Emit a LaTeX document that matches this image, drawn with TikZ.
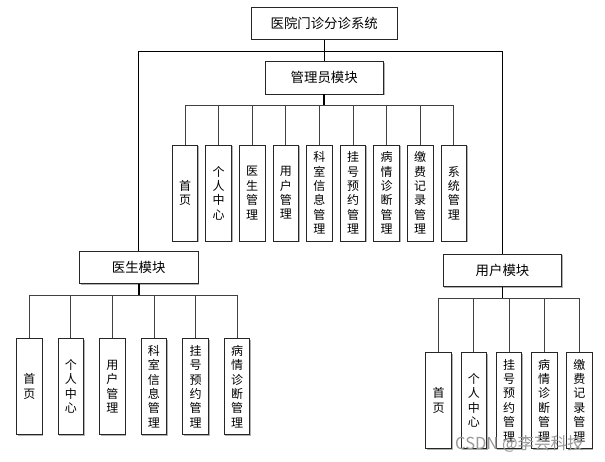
\documentclass[tikz,border=0pt]{standalone}
\usepackage{fontspec}
\setmainfont{Noto Sans CJK SC}
\usetikzlibrary{shadows}
\begin{document}
\begin{tikzpicture}[x=1pt,y=-1pt,
  box/.style={draw=black!85, line width=0.9pt, fill=white, inner sep=0pt,
    drop shadow={shadow xshift=1.2pt, shadow yshift=-1.2pt, fill=black!30, opacity=1}},
  modbox/.style={box, minimum width=118.5pt, minimum height=32.4pt, font=\fontsize{13.4}{16}\selectfont},
  leaf/.style={box, minimum width=25.6pt, minimum height=96pt, align=center, font=\fontsize{12}{14.4}\selectfont},
  wire/.style={draw=black!75, line width=0.9pt},
  mainwire/.style={draw=black, line width=0.9pt},
  stem/.style={draw=black, line width=1.7pt}]
\fill[white] (0,0) rectangle (605,462);
\useasboundingbox (0,0) rectangle (605,462);

% top and modules
\node[modbox, minimum width=145.7pt, minimum height=32pt] (top) at (324.2,23.3) {医院门诊分诊系统};
\node[modbox, minimum height=32.7pt] (adm) at (324.2,77.7) {管理员模块};
\node[modbox, minimum width=118.7pt, minimum height=32pt] (doc) at (138.7,267.7) {医生模块};
\node[modbox] (usr) at (502.5,270.5) {用户模块};

\coordinate (hub) at (324.2,51.5);
\draw[mainwire] (top.south) -- (adm.north);
\draw[mainwire] (doc.north) |- (hub) -| (usr.north);

% admin children
\coordinate (abus) at (324.2,105.7);
\draw[stem] (adm.south) -- (abus);
\foreach \t [count=\i from 0] in {{首\\页},{个\\人\\中\\心},{医\\生\\管\\理},{用\\户\\管\\理},{科\\室\\信\\息\\管\\理},{挂\\号\\预\\约\\管\\理},{病\\情\\诊\\断\\管\\理},{缴\\费\\记\\录\\管\\理},{系\\统\\管\\理}}{
  \node[leaf] (a\i) at ({185+33.6*\i},193) {\t};
  \draw[wire] (abus) -| (a\i.north);
}

% doctor children
\coordinate (dbus) at (138.7,295.7);
\draw[stem] (doc.south) -- (dbus);
\foreach \t [count=\i from 0] in {{首\\页},{个\\人\\中\\心},{用\\户\\管\\理},{科\\室\\信\\息\\管\\理},{挂\\号\\预\\约\\管\\理},{病\\情\\诊\\断\\管\\理}}{
  \node[leaf, minimum height=95.6pt] (d\i) at ({29.3+41.55*\i},386.5) {\t};
  \draw[wire] (dbus) -| (d\i.north);
}

% user children
\coordinate (ubus) at (502.5,298.5);
\draw[stem] (usr.south) -- (ubus);
\foreach \t [count=\i from 0] in {{首\\页},{个\\人\\中\\心},{挂\\号\\预\\约\\管\\理},{病\\情\\诊\\断\\管\\理},{缴\\费\\记\\录\\管\\理}}{
  \node[leaf] (u\i) at ({438.7+35.15*\i},400.3) {\t};
  \draw[wire] (ubus) -| (u\i.north);
}

% watermark
\node[text=black!40, font=\fontsize{16.5}{16.5}\selectfont, anchor=base west, inner sep=0pt] (wm) at (455,449) {CSDN @李芸科技};
\end{tikzpicture}
\end{document}
